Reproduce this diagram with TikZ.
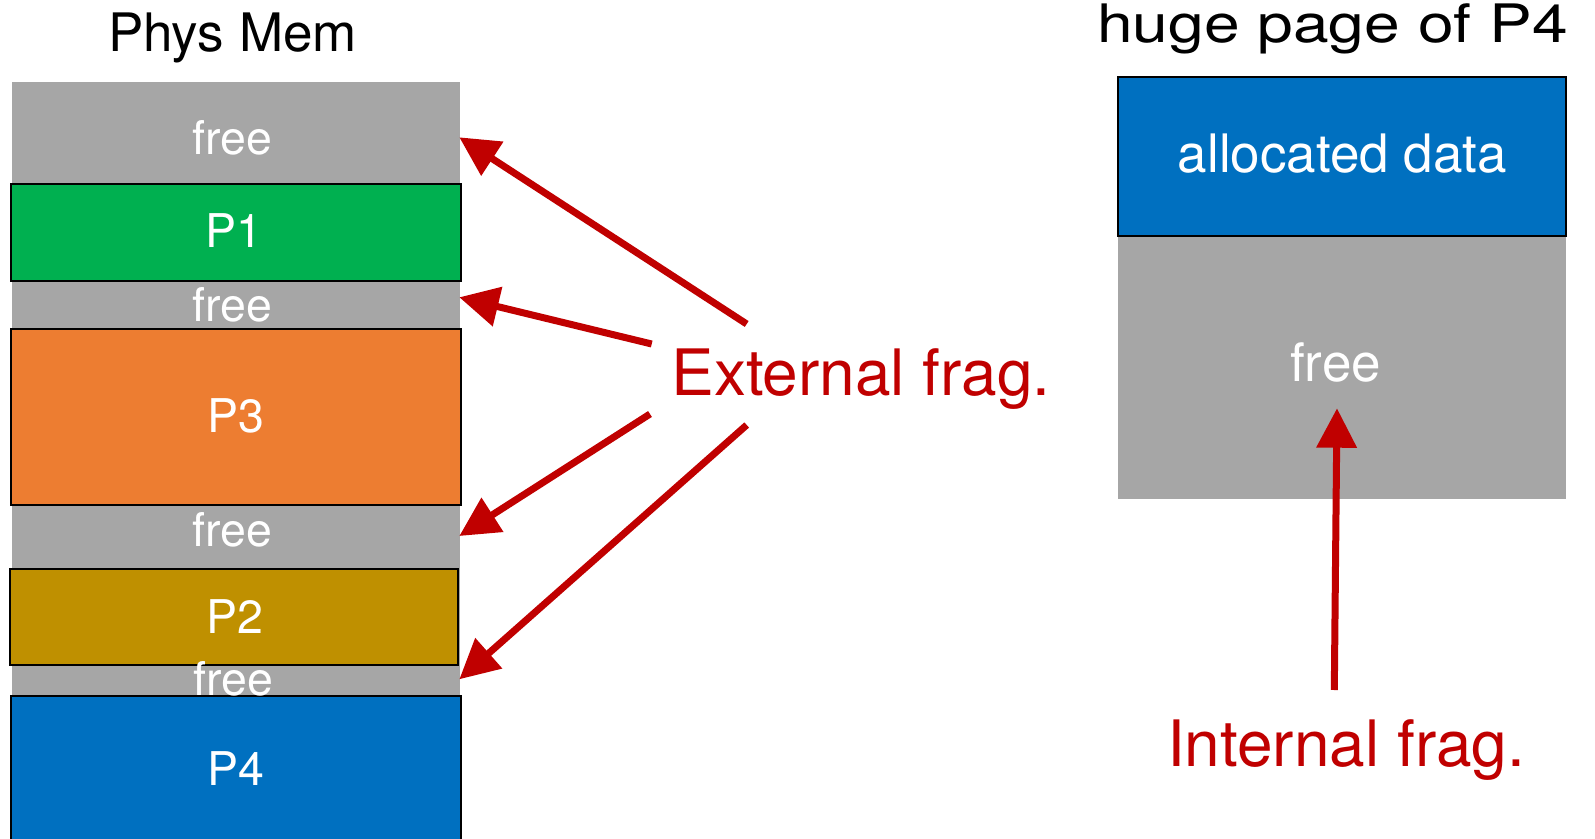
\documentclass[tikz,border=0pt]{standalone}
\usepackage{fontspec}
\setmainfont{TeX Gyre Heros}
\usetikzlibrary{arrows.meta}
\definecolor{memgray}{HTML}{A6A6A6}
\definecolor{pgreen}{HTML}{00B050}
\definecolor{porange}{HTML}{ED7D31}
\definecolor{pgold}{HTML}{BF9000}
\definecolor{pblue}{HTML}{0070C0}
\definecolor{fragred}{HTML}{C00000}
\begin{document}
\begin{tikzpicture}[x=0.5pt,y=-0.5pt,
  blk/.style={draw=black,line width=1.35pt},
  lbl/.style={inner sep=0pt,anchor=base,text=white,font=\fontsize{23.25pt}{28pt}\selectfont},
  rlbl/.style={inner sep=0pt,anchor=base,text=white,font=\fontsize{26.5pt}{32pt}\selectfont},
  title/.style={inner sep=0pt,anchor=base,text=black,font=\fontsize{26.5pt}{32pt}\selectfont},
  fraglbl/.style={inner sep=0pt,anchor=base,text=fragred,font=\fontsize{32pt}{38pt}\selectfont},
  redarr/.style={draw=fragred,line width=3.5pt,-{Triangle[length=19.7pt,width=19.5pt]}},
]
\useasboundingbox (0,0) rectangle (1595,839);

% Physical memory column
\fill[memgray] (12,82) rectangle (460,842);
\filldraw[blk,fill=pgreen]  (11,184) rectangle (461,281);
\filldraw[blk,fill=porange] (11,329) rectangle (461,505);
\filldraw[blk,fill=pgold]   (10,569) rectangle (458,665);
\filldraw[blk,fill=pblue]   (11,696) rectangle (461,846);

\node[title] (physmem) at (232.5,51.7) {Phys Mem};
\node[lbl] (free1) at (232,155) {free};
\node[lbl] (p1) at (234,248) {P1};
\node[lbl] (free2) at (232,322) {free};
\node[lbl] (p3) at (236,432) {P3};
\node[lbl] (free3) at (232,546) {free};
\node[lbl] (p2) at (235,633) {P2};
\node[lbl] (free4) at (233,695) {free};
\node[lbl] (p4) at (236,785) {P4};

% Huge page
\fill[memgray] (1118,236) rectangle (1566,499);
\filldraw[blk,fill=pblue] (1118,77) rectangle (1566,236);
\node[title] (huge) at (1332.5,42.7) {\scalebox{1.21}[1]{huge page of P4}};
\node[rlbl] (alloc) at (1342.5,172.7) {allocated data};
\node[rlbl] (hfree) at (1335.5,381.7) {free};

% Labels
\node[fraglbl] (ext) at (861,396) {External frag.};
\node[fraglbl] (int) at (1346,766.7) {Internal frag.};

% Arrow end points
\coordinate (t1) at (746.7,324);
\coordinate (h1) at (459.3,137.3);
\coordinate (t2) at (651.7,344);
\coordinate (h2) at (459.3,297.3);
\coordinate (t3) at (650,414);
\coordinate (h3) at (459.3,536);
\coordinate (t4) at (746.7,425);
\coordinate (h4) at (459.3,679.3);
\coordinate (t5) at (1334.3,690);
\coordinate (h5) at (1337,408.3);

\draw[redarr] (t1) -- (h1);
\draw[redarr] (t2) -- (h2);
\draw[redarr] (t3) -- (h3);
\draw[redarr] (t4) -- (h4);
\draw[redarr] (t5) -- (h5);
\end{tikzpicture}
\end{document}
